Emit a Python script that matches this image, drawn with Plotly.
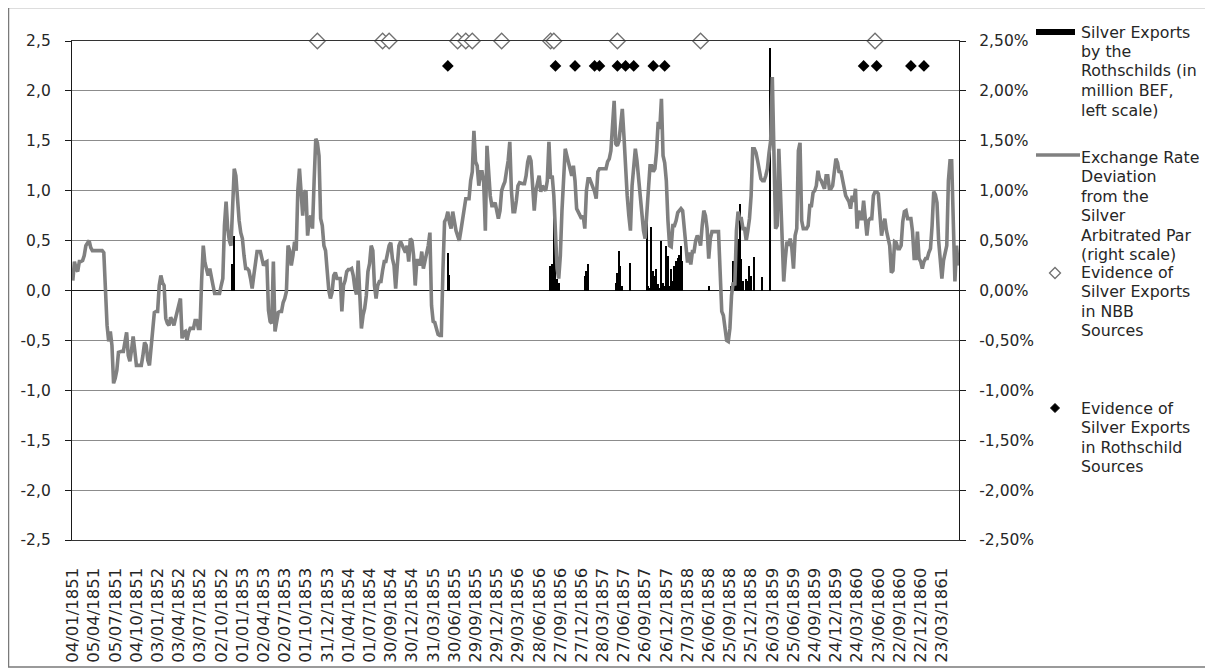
import pandas as pd
import plotly.graph_objects as go

# ---------------- data ----------------
START_WEEK = "1851-01-04"
N_WEEKS = 544

tick_labels = [
    "04/01/1851", "05/04/1851", "05/07/1851", "04/10/1851", "03/01/1852", "03/04/1852",
    "03/07/1852", "02/10/1852", "01/01/1853", "02/04/1853", "02/07/1853", "01/10/1853",
    "31/12/1853", "01/04/1854", "01/07/1854", "30/09/1854", "30/12/1854", "31/03/1855",
    "30/06/1855", "29/09/1855", "29/12/1855", "29/03/1856", "28/06/1856", "27/09/1856",
    "27/12/1856", "28/03/1857", "27/06/1857", "26/09/1857", "26/12/1857", "27/03/1858",
    "26/06/1858", "25/09/1858", "25/12/1858", "26/03/1859", "25/06/1859", "24/09/1859",
    "24/12/1859", "24/03/1860", "23/06/1860", "22/09/1860", "22/12/1860", "23/03/1861",
]

# Exchange rate deviation from the silver arbitrated par (%), weekly (one row = 13 weeks)
deviation = [
    0.10, 0.29, 0.22, 0.19, 0.29, 0.29, 0.30, 0.35, 0.45, 0.47, 0.50, 0.43, 0.40,
    0.40, 0.40, 0.40, 0.40, 0.40, 0.40, 0.38, -0.11, -0.35, -0.51, -0.41, -0.55, -0.93,
    -0.88, -0.80, -0.62, -0.61, -0.61, -0.61, -0.50, -0.42, -0.65, -0.71, -0.60, -0.46, -0.60,
    -0.75, -0.75, -0.75, -0.75, -0.65, -0.52, -0.55, -0.70, -0.75, -0.55, -0.40, -0.22, -0.21,
    -0.21, 0.05, 0.15, 0.08, 0.05, -0.28, -0.33, -0.35, -0.27, -0.30, -0.35, -0.28, -0.20,
    -0.12, -0.08, -0.48, -0.42, -0.41, -0.50, -0.42, -0.38, -0.38, -0.38, -0.30, -0.30, -0.38,
    -0.38, 0.10, 0.45, 0.28, 0.20, 0.15, 0.22, 0.15, 0.05, -0.03, -0.03, -0.03, -0.03,
    0.05, 0.12, 0.65, 0.89, 0.62, 0.50, 0.45, 0.90, 1.22, 1.15, 0.90, 0.70, 0.58,
    0.52, 0.35, 0.22, 0.22, 0.20, 0.12, 0.02, 0.15, 0.30, 0.39, 0.39, 0.39, 0.32,
    0.25, 0.28, 0.29, -0.20, -0.31, -0.33, 0.29, -0.41, -0.32, -0.22, -0.21, -0.21, -0.12,
    -0.08, -0.01, 0.45, 0.40, 0.25, 0.35, 0.49, 0.40, 1.00, 1.22, 0.90, 0.75, 0.98,
    1.00, 0.55, 0.70, 0.75, 0.62, 1.10, 1.52, 1.48, 1.35, 0.72, 0.65, 0.45, 0.40,
    0.20, 0.00, -0.08, -0.02, 0.15, 0.18, 0.12, 0.12, 0.12, -0.21, 0.05, 0.10, 0.19,
    0.21, 0.21, 0.22, 0.15, 0.02, -0.04, 0.30, -0.05, -0.38, -0.25, -0.18, -0.05, 0.19,
    0.27, 0.45, 0.40, 0.05, -0.08, 0.05, 0.09, 0.09, 0.20, 0.29, 0.29, 0.37, 0.45,
    0.48, 0.32, 0.25, 0.02, 0.25, 0.45, 0.49, 0.45, 0.42, 0.38, 0.45, 0.29, 0.52,
    0.50, 0.35, 0.05, 0.30, 0.30, 0.25, 0.39, 0.22, 0.30, 0.39, 0.45, 0.58, -0.15,
    -0.31, -0.32, -0.38, -0.44, -0.45, -0.45, 0.20, 0.69, 0.72, 0.79, 0.68, 0.62, 0.79,
    0.68, 0.60, 0.55, 0.50, 0.60, 0.70, 0.80, 0.92, 0.92, 0.92, 1.10, 1.19, 1.60,
    1.29, 1.25, 1.05, 1.19, 1.19, 1.08, 0.60, 1.45, 1.18, 0.95, 0.85, 0.85, 0.88,
    0.78, 0.72, 0.80, 1.00, 1.05, 1.09, 1.20, 1.30, 1.49, 1.00, 0.79, 0.79, 0.90,
    1.05, 1.08, 1.07, 1.07, 1.07, 1.15, 1.29, 1.35, 1.30, 1.05, 0.80, 1.00, 1.10,
    1.15, 0.99, 1.05, 1.02, 1.00, 1.10, 1.49, 1.12, 1.15, 0.95, 0.55, 0.22, 0.12,
    0.35, 0.80, 1.10, 1.42, 1.35, 1.29, 1.20, 1.15, 1.25, 1.10, 0.82, 0.78, 0.75,
    0.72, 0.75, 0.62, 1.00, 1.12, 1.12, 1.08, 1.02, 0.99, 0.92, 1.19, 1.22, 1.22,
    1.22, 1.22, 1.22, 1.29, 1.32, 1.40, 1.60, 1.90, 1.47, 1.45, 1.50, 1.65, 1.82,
    1.55, 1.20, 0.95, 0.75, 0.60, 1.05, 1.25, 1.42, 1.30, 1.10, 0.90, 0.75, 0.60,
    0.52, 0.75, 1.05, 1.25, 1.25, 1.19, 1.22, 1.39, 1.69, 1.62, 1.92, 1.35, 1.28,
    1.10, 0.70, 0.45, 0.44, 0.65, 0.65, 0.70, 0.78, 0.80, 0.82, 0.80, 0.60, 0.45,
    0.28, 0.38, 0.26, 0.39, 0.39, 0.50, 0.55, 0.52, 0.45, 0.65, 0.80, 0.75, 0.62,
    0.32, 0.52, 0.59, 0.59, 0.59, 0.59, 0.59, 0.19, -0.21, -0.25, -0.41, -0.50, -0.51,
    -0.38, -0.05, 0.08, 0.05, 0.60, 0.79, 0.72, 0.72, 0.62, 0.62, 0.50, 0.60, 0.72,
    0.95, 1.42, 1.42, 1.38, 1.30, 1.20, 1.12, 1.10, 1.10, 1.15, 1.22, 1.38, 1.50,
    2.14, 1.20, 0.62, 0.65, 1.42, 0.99, 0.39, 0.09, 0.32, 0.49, 0.45, 0.52, 0.42,
    0.22, 0.55, 0.62, 1.40, 1.48, 0.70, 0.62, 0.62, 0.62, 0.65, 0.85, 0.85, 0.98,
    1.00, 1.05, 1.20, 1.12, 1.10, 1.05, 1.02, 1.15, 1.15, 1.02, 1.02, 1.05, 1.20,
    1.32, 1.28, 1.18, 1.20, 1.10, 1.05, 0.95, 0.92, 0.89, 0.82, 0.95, 0.89, 1.02,
    0.62, 0.80, 0.72, 0.72, 0.90, 0.75, 0.55, 0.70, 0.72, 0.72, 0.95, 0.99, 0.99,
    0.97, 0.75, 0.55, 0.65, 0.72, 0.60, 0.52, 0.45, 0.18, 0.20, 0.49, 0.48, 0.42,
    0.42, 0.45, 0.69, 0.79, 0.80, 0.72, 0.72, 0.72, 0.59, 0.32, 0.32, 0.59, 0.32,
    0.29, 0.22, 0.29, 0.32, 0.32, 0.38, 0.42, 0.65, 0.99, 0.96, 0.88, 0.50, 0.35,
    0.12, 0.30, 0.39, 0.45, 1.10, 1.30, 1.30, 0.70, 0.09, 0.45, 0.25,
]

# Silver exports by the Rothschilds (million BEF, left scale)
export_dates = [
    "1852-11-20", "1852-11-27",
    "1855-06-02", "1855-06-09",
    "1856-08-16", "1856-08-23", "1856-08-30", "1856-09-06", "1856-09-13", "1856-09-20",
    "1857-01-10", "1857-01-17", "1857-01-24",
    "1857-05-23", "1857-05-30", "1857-06-06", "1857-06-13", "1857-06-20",
    "1857-07-25",
    "1857-10-03", "1857-10-10", "1857-10-17", "1857-10-24", "1857-10-31", "1857-11-07",
    "1857-11-14", "1857-11-21", "1857-11-28", "1857-12-05", "1857-12-12", "1857-12-19",
    "1857-12-26", "1858-01-02", "1858-01-09", "1858-01-16", "1858-01-23", "1858-01-30",
    "1858-02-06", "1858-02-13", "1858-02-20", "1858-02-27", "1858-03-06",
    "1858-06-26",
    "1858-10-02", "1858-10-09", "1858-10-16", "1858-10-23", "1858-10-30", "1858-11-06",
    "1858-11-13", "1858-11-20", "1858-12-04", "1858-12-11", "1858-12-18", "1858-12-25",
    "1859-01-08", "1859-02-12", "1859-03-19",
]
export_values = [
    0.27, 0.55,
    0.38, 0.16,
    0.25, 0.27, 0.80, 0.50, 0.12, 0.08,
    0.15, 0.20, 0.27,
    0.08, 0.18, 0.40, 0.25, 0.05,
    0.28,
    0.79, 0.05, 0.03, 0.64, 0.20, 0.15,
    0.22, 0.07, 0.03, 0.50, 0.08, 0.05,
    0.45, 0.35, 0.05, 0.22, 0.10, 0.25,
    0.30, 0.33, 0.36, 0.45, 0.30,
    0.05,
    0.05, 0.30, 0.38, 0.25, 0.52, 0.87,
    0.32, 0.10, 0.12, 0.10, 0.25, 0.15,
    0.34, 0.14, 2.43,
]

# Evidence of silver exports in NBB sources (plotted on the 2.5 line)
nbb_dates = [
    "1853-11-19", "1854-08-26", "1854-09-23", "1855-07-14", "1855-08-18", "1855-09-15",
    "1856-01-19", "1856-08-16", "1856-08-30", "1857-05-30", "1858-05-22", "1860-06-09",
]
NBB_LEVEL = 2.5

# Evidence of silver exports in Rothschild sources (plotted at 2.25)
roth_dates = [
    "1855-06-02", "1856-09-06", "1856-11-29", "1857-02-21", "1857-03-14", "1857-05-30",
    "1857-07-04", "1857-08-08", "1857-10-31", "1857-12-19", "1860-04-21", "1860-06-16",
    "1860-11-10", "1861-01-05",
]
ROTH_LEVEL = 2.25

left_ticks = [2.5, 2.0, 1.5, 1.0, 0.5, 0.0, -0.5, -1.0, -1.5, -2.0, -2.5]
left_ticktext = ["2,5", "2,0", "1,5", "1,0", "0,5", "0,0", "-0,5", "-1,0", "-1,5", "-2,0", "-2,5"]
right_ticktext = ["2,50%", "2,00%", "1,50%", "1,00%", "0,50%", "0,00%",
                  "-0,50%", "-1,00%", "-1,50%", "-2,00%", "-2,50%"]

legend_lines = [
    ["Silver Exports", "by the", "Rothschilds (in", "million BEF,", "left scale)"],
    ["Exchange Rate", "Deviation", "from the", "Silver", "Arbitrated Par", "(right scale)"],
    ["Evidence of", "Silver Exports", "in NBB", "Sources"],
    ["Evidence of", "Silver Exports", "in Rothschild", "Sources"],
]

assert len(deviation) == N_WEEKS
assert len(export_dates) == len(export_values)

weeks = pd.date_range(START_WEEK, periods=N_WEEKS, freq="7D")
tick_dates = [pd.to_datetime(t, format="%d/%m/%Y") for t in tick_labels]
half_week = pd.Timedelta(days=3.5)

# ---------------- figure ----------------
# page body has an 8px margin: figure occupies screen px 8..1213 / 8..668
W, H = 1205, 660
PL, PR, PT, PB = 72, 959, 41, 540          # plot area in screen pixels
PW, PH = PR - PL, PB - PT
L, T = PL - 8, PT - 8
R, B = W - L - PW, H - T - PH

def px(x):
    return (x - PL) / PW

def py(y):
    return (PB - y) / PH

FONT = "'DejaVu Sans', Verdana, sans-serif"
TXT = "#262626"
GRAY = "#808080"

fig = go.Figure()

fig.add_trace(go.Bar(
    x=pd.to_datetime(export_dates), y=export_values,
    width=6 * 86400000, marker=dict(color="black", line=dict(width=0)),
    name="Silver Exports by the Rothschilds (in million BEF, left scale)",
    yaxis="y", showlegend=False,
))

fig.add_trace(go.Scatter(
    x=weeks, y=deviation, mode="lines",
    line=dict(color=GRAY, width=3.6),
    name="Exchange Rate Deviation from the Silver Arbitrated Par (right scale)",
    yaxis="y2", showlegend=False,
))

fig.add_trace(go.Scatter(
    x=pd.to_datetime(nbb_dates), y=[NBB_LEVEL] * len(nbb_dates), mode="markers",
    marker=dict(symbol="diamond", size=12, color="white", line=dict(color="#707070", width=1.3)),
    name="Evidence of Silver Exports in NBB Sources",
    yaxis="y2", showlegend=False, cliponaxis=False,
))

fig.add_trace(go.Scatter(
    x=pd.to_datetime(roth_dates), y=[ROTH_LEVEL] * len(roth_dates), mode="markers",
    marker=dict(symbol="diamond", size=9, color="black"),
    name="Evidence of Silver Exports in Rothschild Sources",
    yaxis="y2", showlegend=False, cliponaxis=False,
))

shapes = []
# outer chart border
shapes.append(dict(type="rect", xref="paper", yref="paper",
                   x0=px(8.5), x1=px(1212), y0=py(667), y1=py(7.5),
                   line=dict(color="#7a7a7a", width=1.5), fillcolor="rgba(0,0,0,0)", layer="below"))
# legend swatches
shapes.append(dict(type="rect", xref="paper", yref="paper",
                   x0=px(1036), x1=px(1075), y0=py(35), y1=py(29),
                   line=dict(width=0), fillcolor="black"))
shapes.append(dict(type="line", xref="paper", yref="paper",
                   x0=px(1036), x1=px(1080), y0=py(155), y1=py(155),
                   line=dict(color=GRAY, width=3.6)))

def diamond_path(cx, cy, r):
    return (f"M {px(cx - r)} {py(cy)} L {px(cx)} {py(cy - r)} "
            f"L {px(cx + r)} {py(cy)} L {px(cx)} {py(cy + r)} Z")

shapes.append(dict(type="path", xref="paper", yref="paper",
                   path=diamond_path(1055, 273, 5.5),
                   line=dict(color="#707070", width=1.3), fillcolor="white"))
shapes.append(dict(type="path", xref="paper", yref="paper",
                   path=diamond_path(1055, 408, 4.5),
                   line=dict(color="black", width=1), fillcolor="black"))

legend_first_y = [32, 157, 272, 408]
LINE_STEP = 19.5
annotations = []
for lines, y0 in zip(legend_lines, legend_first_y):
    for k, line in enumerate(lines):
        annotations.append(dict(
            xref="paper", yref="paper", x=px(1079), y=py(y0 + k * LINE_STEP),
            xanchor="left", yanchor="middle", align="left",
            text=line, showarrow=False,
            font=dict(family=FONT, size=15.8, color=TXT),
        ))

fig.update_layout(
    width=W, height=H,
    margin=dict(l=L, r=R, t=T, b=B, autoexpand=False),
    paper_bgcolor="white", plot_bgcolor="white",
    font=dict(family=FONT, color=TXT),
    bargap=0,
    showlegend=False,
    shapes=shapes,
    annotations=annotations,
    xaxis=dict(
        type="date",
        range=[weeks[0] - half_week, weeks[-1] + half_week],
        tickmode="array", tickvals=tick_dates, ticktext=tick_labels,
        tickangle=-90, tickfont=dict(family=FONT, size=16.5, color=TXT),
        showgrid=False, showline=True, mirror=True,
        linecolor="#333333", linewidth=1.3,
        ticks="", ticklabelstandoff=20,
    ),
    yaxis=dict(
        range=[-2.5, 2.5],
        tickmode="array", tickvals=left_ticks, ticktext=left_ticktext,
        tickfont=dict(family=FONT, size=15.5, color=TXT),
        showgrid=True, gridcolor="#8c8c8c", gridwidth=1,
        zeroline=True, zerolinecolor="#1a1a1a", zerolinewidth=1.3,
        showline=True, linecolor="#1a1a1a", linewidth=1.3,
        ticks="outside", ticklen=6, tickcolor="#1a1a1a",
        ticklabelstandoff=11,
    ),
    yaxis2=dict(
        range=[-2.5, 2.5], overlaying="y", side="right",
        tickmode="array", tickvals=left_ticks, ticktext=right_ticktext,
        tickfont=dict(family=FONT, size=15.5, color=TXT),
        showgrid=False, zeroline=False,
        showline=True, linecolor="#1a1a1a", linewidth=1.3,
        ticks="outside", ticklen=6, tickcolor="#1a1a1a",
        ticklabelstandoff=10,
    ),
)

fig.write_html("out.html")
